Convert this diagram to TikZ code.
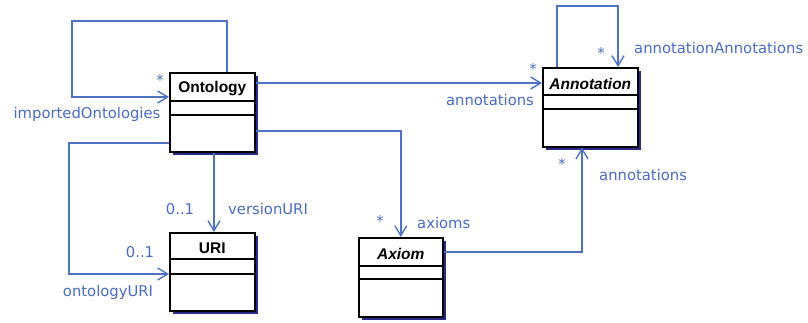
\documentclass[tikz,border=0pt]{standalone}
\usepackage{fontspec}
\setmainfont{DejaVu Sans}
\newfontfamily\titlefont{Liberation Sans}
\usetikzlibrary{arrows.meta,shadows,calc}
\definecolor{linec}{HTML}{4F72C2}
\definecolor{textc}{HTML}{4A6BBE}
\definecolor{shadc}{HTML}{2A2A88}
\tikzset{
  classbox/.style={draw=black, line width=1.6pt, fill=white, anchor=north west, inner sep=0pt,
    drop shadow={shadow xshift=3.5pt, shadow yshift=-3.5pt, fill=shadc, opacity=1}},
  divider/.style={draw=black, line width=1.5pt},
  title/.style={font=\titlefont\fontsize{15.5}{17}\selectfont\bfseries, inner sep=0pt},
  assoc/.style={draw=linec, line width=1.4pt},
  nav/.style={assoc, -{Straight Barb[length=10pt,width=12pt,line width=1.4pt]}},
  lbl/.style={text=textc, font=\fontsize{14.8}{16}\selectfont, inner sep=0pt},
}
\begin{document}
\begin{tikzpicture}[x=1pt,y=-1pt]
\useasboundingbox (0,0) rectangle (808,322);
% classes
\node[classbox, minimum width=85pt, minimum height=79pt] (ont) at (169,72) {};
\node[classbox, minimum width=85pt, minimum height=78pt] (uri) at (169,232) {};
\node[classbox, minimum width=84pt, minimum height=79pt] (ax) at (358,237) {};
\node[classbox, minimum width=95pt, minimum height=79pt] (ann) at (542,67) {};
% dividers
\draw[divider] ([yshift=-29pt]ont.north west) -- ([yshift=-29pt]ont.north east);
\draw[divider] ([yshift=-43pt]ont.north west) -- ([yshift=-43pt]ont.north east);
\draw[divider] ([yshift=-27pt]uri.north west) -- ([yshift=-27pt]uri.north east);
\draw[divider] ([yshift=-42pt]uri.north west) -- ([yshift=-42pt]uri.north east);
\draw[divider] ([yshift=-29pt]ax.north west) -- ([yshift=-29pt]ax.north east);
\draw[divider] ([yshift=-42pt]ax.north west) -- ([yshift=-42pt]ax.north east);
\draw[divider] ([yshift=-28pt]ann.north west) -- ([yshift=-28pt]ann.north east);
\draw[divider] ([yshift=-42pt]ann.north west) -- ([yshift=-42pt]ann.north east);
% titles
\node[title] (tont) at ([yshift=-16.5pt]ont.north) {Ontology};
\node[title] (turi) at ([yshift=-16.5pt]uri.north) {URI};
\node[title] (tax) at ([yshift=-16.5pt]ax.north) {\itshape Axiom};
\node[title] (tann) at ([yshift=-16.5pt]ann.north) {\itshape Annotation};
% connectors
\draw[nav] ([xshift=58pt]ont.north west) -- ++(0,-51) -- (72,21) -- (72,97) -- ([yshift=-25pt]ont.north west);
\draw[nav] ([yshift=-11pt]ont.north east) -- ([yshift=-11pt]ont.north east -| ann.west);
\draw[nav] ([yshift=-59pt]ont.north east) -| (ax.north);
\draw[nav] ([xshift=45pt]ont.south west) -- ([xshift=45pt]uri.north west);
\draw[nav] ([yshift=-71pt]ont.north west) -- ++(-100,0) |- ([yshift=-42pt]uri.north west);
\draw[nav] ([yshift=-15pt]ax.north east) -| ([xshift=40pt]ann.south west);
\draw[nav] ([xshift=15pt]ann.north west) -- ++(0,-61) -| ([xshift=76pt]ann.north west);
% labels
\node[lbl] (m1) at (160,80) {*};
\node[lbl] (l1) at (87,114) {importedOntologies};
\node[lbl] (m2) at (533,69) {*};
\node[lbl] (l2) at (490,100) {annotations};
\node[lbl] (m3) at (601,53) {*};
\node[lbl, anchor=west] (l3) at (634,48) {annotationAnnotations};
\node[lbl] (m4) at (562,164) {*};
\node[lbl, anchor=west] (l4) at (599,175) {annotations};
\node[lbl] (m5) at (380,221) {*};
\node[lbl, anchor=west] (l5) at (417,223) {axioms};
\node[lbl] (m6) at (180,209) {0..1};
\node[lbl, anchor=west] (l6) at (228,209) {versionURI};
\node[lbl] (m7) at (140,252) {0..1};
\node[lbl] (l7) at (108,292) {ontologyURI};
\end{tikzpicture}
\end{document}
